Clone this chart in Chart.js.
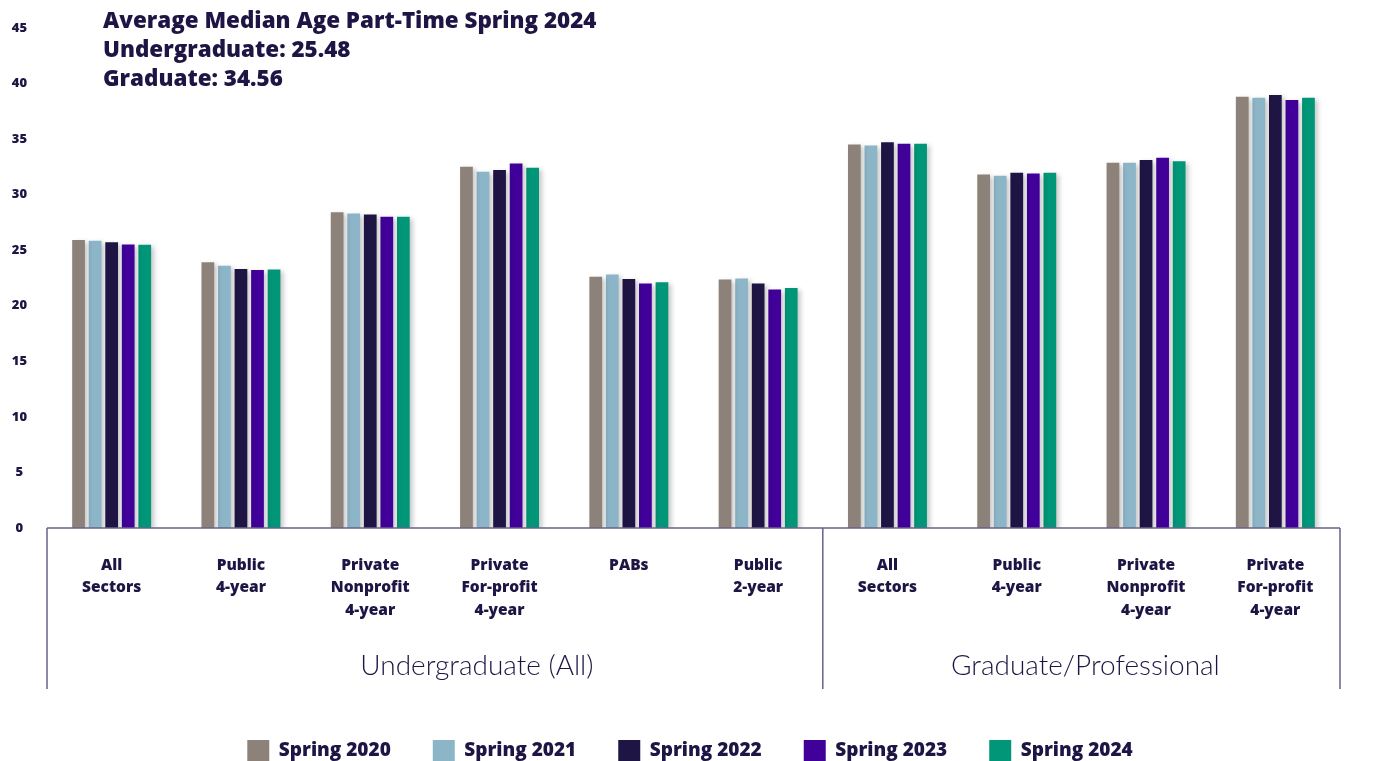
<!DOCTYPE html>
<html>
<head>
<meta charset="utf-8">
<script src="https://cdn.jsdelivr.net/npm/chart.js@4.4.1/dist/chart.umd.min.js"></script>
<style>
  html, body { margin: 0; padding: 0; background: #fff; overflow: hidden; }
  #wrap { position: relative; width: 1375px; height: 772px; }
</style>
</head>
<body>
<div id="wrap"><canvas id="chart"></canvas></div>
<script>
// categories (multi-line labels) and groups
const categories = [
  ['All', 'Sectors'], ['Public', '4-year'], ['Private', 'Nonprofit', '4-year'],
  ['Private', 'For-profit', '4-year'], ['PABs'], ['Public', '2-year'],
  ['All', 'Sectors'], ['Public', '4-year'], ['Private', 'Nonprofit', '4-year'],
  ['Private', 'For-profit', '4-year']
];
const groups = ['Undergraduate (All)', 'Graduate/Professional'];
const groupSizes = [6, 4];
const titleLines = [
  'Average Median Age Part-Time Spring 2024',
  'Undergraduate: 25.48',
  'Graduate: 34.56'
];

// median age per category, one array per term
const spring2020 = [25.9, 23.9, 28.4, 32.5, 22.6, 22.35, 34.5, 31.8, 32.85, 38.8];
const spring2021 = [25.85, 23.6, 28.3, 32.05, 22.8, 22.45, 34.4, 31.7, 32.85, 38.7];
const spring2022 = [25.7, 23.3, 28.2, 32.2, 22.4, 22.0, 34.7, 31.95, 33.1, 38.95];
const spring2023 = [25.5, 23.2, 28.0, 32.8, 22.0, 21.45, 34.56, 31.9, 33.3, 38.5];
const spring2024 = [25.48, 23.25, 28.0, 32.4, 22.1, 21.6, 34.56, 31.95, 33.0, 38.7];

const yTicks = [0, 5, 10, 15, 20, 25, 30, 35, 40, 45];

const ink = '#1f1545';
const axisColor = '#67638a';
const font = '"Open Sans", Lato, sans-serif';
const lightFont = 'Lato, "Open Sans", sans-serif';

const barShadow = {
  id: 'barShadow',
  beforeDatasetsDraw(chart) {
    const ctx = chart.ctx;
    ctx.save();
    ctx.shadowColor = 'rgba(0,0,0,0.22)';
    ctx.shadowBlur = 5;
    ctx.shadowOffsetX = 3;
    ctx.shadowOffsetY = 2;
  },
  afterDatasetsDraw(chart) {
    chart.ctx.restore();
  }
};

// legend sits centred on the full canvas, not just the padded area
const legendCentre = {
  id: 'legendCentre',
  afterLayout(chart) {
    chart.legend.left = 0;
    chart.legend.right = chart.width + 5;
  }
};

const axisFrame = {
  id: 'axisFrame',
  afterDraw(chart) {
    const ctx = chart.ctx;
    const area = chart.chartArea;
    const x = chart.scales.x;
    const bottom = area.bottom + 161;
    ctx.save();
    ctx.strokeStyle = axisColor;
    ctx.lineWidth = 1.5;
    ctx.beginPath();
    ctx.moveTo(area.left, area.bottom);
    ctx.lineTo(area.right, area.bottom);
    // group dividers
    const edges = [area.left];
    let idx = 0;
    groupSizes.forEach((n, g) => {
      idx += n;
      if (g < groupSizes.length - 1) {
        edges.push((x.getPixelForValue(idx - 1) + x.getPixelForValue(idx)) / 2);
      }
    });
    edges.push(area.right);
    edges.forEach(ex => {
      ctx.moveTo(ex, area.bottom);
      ctx.lineTo(ex, bottom);
    });
    ctx.stroke();

    // group labels
    ctx.fillStyle = ink;
    ctx.font = '300 28px ' + lightFont;
    ctx.textAlign = 'center';
    ctx.textBaseline = 'middle';
    groups.forEach((g, i) => {
      ctx.fillText(g, (edges[i] + edges[i + 1]) / 2 + (i === 0 ? 42 : 4), area.bottom + 138);
    });

    // title block
    ctx.textAlign = 'left';
    ctx.font = '800 22.4px ' + font;
    titleLines.forEach((t, i) => {
      ctx.fillText(t, area.left + 56, 22 + i * 29);
    });
    ctx.restore();
  }
};

const colors = ['#8c8279', '#8db5c8', '#1f1545', '#410099', '#009677'];
const seriesNames = ['Spring 2020', 'Spring 2021', 'Spring 2022', 'Spring 2023', 'Spring 2024'];
const series = [spring2020, spring2021, spring2022, spring2023, spring2024];

new Chart(document.getElementById('chart'), {
  type: 'bar',
  data: {
    labels: categories,
    datasets: series.map((d, i) => ({
      label: seriesNames[i],
      data: d,
      backgroundColor: colors[i],
      borderWidth: 0,
      barPercentage: 0.77,
      categoryPercentage: 0.64
    }))
  },
  options: {
    responsive: true,
    maintainAspectRatio: false,
    animation: false,
    layout: { padding: { top: 14, right: 35, left: 0, bottom: 0 } },
    plugins: {
      tooltip: { enabled: false },
      legend: {
        position: 'bottom',
        labels: {
          color: ink,
          boxWidth: 22,
          boxHeight: 22,
          padding: 42,
          font: { family: font, size: 19, weight: 800 }
        }
      }
    },
    scales: {
      x: {
        grid: { display: false, drawTicks: false },
        border: { display: false },
        ticks: {
          color: ink,
          autoSkip: false,
          maxRotation: 0,
          padding: 26,
          font: { family: font, size: 15.5, weight: 800, lineHeight: 1.45 }
        },
        afterFit(scale) { scale.height = 170; }
      },
      y: {
        min: 0,
        max: 45,
        afterBuildTicks(scale) { scale.ticks = yTicks.map(v => ({ value: v })); },
        grid: { display: false, drawTicks: false },
        border: { display: false },
        ticks: {
          color: ink,
          padding: 20,
          crossAlign: 'center',
          font: { family: font, size: 13, weight: 800 }
        },
        afterFit(scale) { scale.width = 47; }
      }
    }
  },
  plugins: [barShadow, legendCentre, axisFrame]
});
</script>
</body>
</html>
